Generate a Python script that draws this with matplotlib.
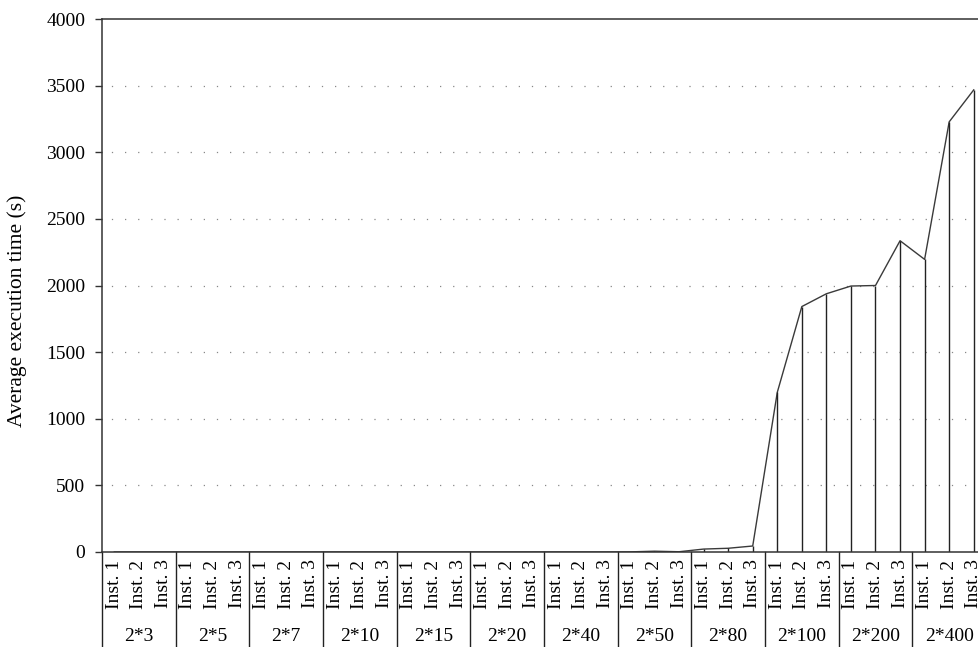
import numpy as np
import matplotlib.pyplot as plt
import matplotlib.transforms as mtransforms

# data
groups = ["2*3", "2*5", "2*7", "2*10", "2*15", "2*20", "2*40", "2*50", "2*80", "2*100", "2*200", "2*400"]
instances = ["Inst. 1", "Inst. 2", "Inst. 3"]
avg_time = [0, 0, 0,
            0, 0, 0,
            0, 0, 0,
            0, 0, 0,
            0, 0, 0,
            0, 0, 0,
            0, 0, 0,
            1, 6, 2,
            22, 28, 45,
            1198, 1842, 1938,
            1996, 2000, 2336,
            2196, 3228, 3468]

plt.rcParams['font.family'] = ['Liberation Serif', 'DejaVu Serif']
plt.rcParams['font.size'] = 14

n_inst = len(instances)
n = len(groups) * n_inst
x = np.arange(n) + 0.5
y = np.array(avg_time)

fig = plt.figure(figsize=(9.79, 6.47), dpi=100)
W, H = 979, 647
ax = fig.add_axes([102 / W, 1 - 552 / H, (986 - 102) / W, (552 - 19) / H])

line_col = '#3a3a3a'
ax.plot(x, y, color=line_col, lw=1.0)
ax.vlines(x, 0, y, color='#222222', lw=1.0)

ax.set_xlim(0, n)
ax.set_ylim(0, 4000)
ax.set_yticks(np.arange(0, 4001, 500))
ax.set_xticks([])

# dotted gridlines
for v in range(500, 4000, 500):
    ax.axhline(v, color='#888888', lw=0.9, linestyle=(3, (1, 9.5)), zorder=0)

ax.spines['right'].set_visible(False)
for s in ['left', 'top', 'bottom']:
    ax.spines[s].set_color('#333333')
    ax.spines[s].set_linewidth(1.1)
ax.tick_params(axis='y', direction='out', length=5, width=1, color='#333333', pad=7)
ax.set_ylabel('Average execution time (s)', fontsize=15.5)
ax.yaxis.set_label_coords(-0.085, 0.452)

# two-level category axis under the plot
trans = mtransforms.blended_transform_factory(ax.transData, ax.transAxes)
for k in range(len(groups) + 1):
    xs = k * n_inst
    ax.plot([xs, xs], [0, -0.2], color='#222222', lw=1.0, transform=trans, clip_on=False)
for i in range(n):
    ax.text(x[i], -0.014, instances[i % n_inst], rotation=90, ha='center', va='top',
            transform=trans)
for g, name in enumerate(groups):
    ax.text(g * n_inst + n_inst / 2, -0.158, name, ha='center', va='center', transform=trans)

fig.savefig('out.png', dpi=100)
